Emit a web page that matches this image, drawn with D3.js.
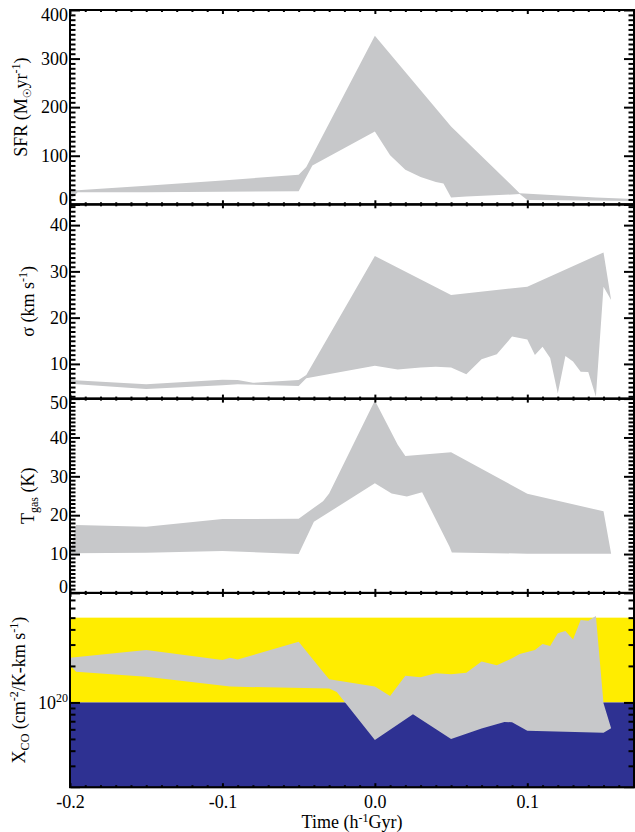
<!DOCTYPE html>
<html>
<head>
<meta charset="utf-8">
<script src="https://cdn.jsdelivr.net/npm/d3@7"></script>
<style>
  body { margin: 0; background: #fff; }
  svg text { font-family: "Liberation Serif", "Times New Roman", serif; fill: #000; }
</style>
</head>
<body>
<svg id="chart" width="635" height="832"></svg>
<script>
// ---- time axis ----
const timeDomain = [-0.2, 0.17];
const timeMajor = [-0.2, -0.1, 0.0, 0.1];
const timeLabels = ["-0.2", "-0.1", "0.0", "0.1"];

// ---- star formation rate envelope [time, M_sun/yr] ----
const sfrUpper = [[-0.2, 33], [-0.195, 29], [-0.15, 38], [-0.1, 49], [-0.05, 61], [-0.045, 77],
  [0.0, 347], [0.05, 160], [0.095, 23], [0.145, 14], [0.17, 11]];
const sfrLower = [[-0.2, 9], [-0.195, 25], [-0.15, 25], [-0.1, 26], [-0.05, 27], [-0.041, 80],
  [0.0, 150], [0.01, 101], [0.02, 71], [0.03, 56], [0.04, 46], [0.045, 43], [0.05, 14],
  [0.06, 16], [0.095, 21], [0.1, 9], [0.17, 7]];

// ---- velocity dispersion envelope [time, km/s] ----
const sigmaUpper = [[-0.2, 6.5], [-0.15, 5.6], [-0.1, 6.6], [-0.09, 6.5], [-0.08, 5.9], [-0.05, 6.5],
  [-0.045, 7.6], [0.0, 33.3], [0.05, 24.9], [0.1, 26.7], [0.15, 34.1], [0.155, 23.8]];
const sigmaLower = [[-0.2, 5.7], [-0.15, 4.6], [-0.1, 5.4], [-0.09, 5.6], [-0.05, 5.2], [-0.045, 6.9],
  [0.0, 9.6], [0.015, 8.8], [0.03, 9.2], [0.04, 9.4], [0.05, 9.2], [0.06, 7.75], [0.07, 11.0],
  [0.08, 12.1], [0.09, 15.9], [0.1, 15.3], [0.105, 11.9], [0.11, 13.7], [0.115, 11.3],
  [0.12, 3.6], [0.125, 11.7], [0.13, 10.5], [0.135, 8.3], [0.14, 8.25], [0.145, 2.9],
  [0.15, 26.7], [0.155, 23.8]];

// ---- gas temperature envelope [time, K] ----
const tgasUpper = [[-0.2, 10.2], [-0.196, 17.5], [-0.15, 17.0], [-0.1, 19.0], [-0.05, 19.1],
  [-0.034, 23.6], [-0.03, 25.6], [0.0, 49.5], [0.015, 38.1], [0.02, 35.2], [0.05, 36.2],
  [0.1, 25.5], [0.15, 21.0], [0.155, 10.1]];
const tgasLower = [[-0.2, 10.2], [-0.15, 10.3], [-0.1, 10.8], [-0.05, 10.0], [-0.04, 18.3],
  [0.0, 28.2], [0.011, 25.6], [0.021, 24.8], [0.031, 25.9], [0.049, 11.9], [0.0505, 10.4],
  [0.1, 10.1], [0.155, 10.1]];

// ---- CO-to-H2 conversion factor envelope [time, cm^-2/(K km/s)] ----
const xcoUpper = [[-0.2, 2.34e20], [-0.15, 2.70e20], [-0.1, 2.24e20], [-0.095, 2.34e20],
  [-0.09, 2.26e20], [-0.05, 3.16e20], [-0.035, 1.85e20], [-0.03, 1.55e20], [0.0, 1.35e20],
  [0.01, 1.13e20], [0.02, 1.66e20], [0.03, 1.61e20], [0.04, 1.74e20], [0.05, 1.71e20],
  [0.06, 1.76e20], [0.07, 2.17e20], [0.08, 2.03e20], [0.09, 2.31e20], [0.095, 2.51e20],
  [0.105, 2.70e20], [0.11, 3.03e20], [0.115, 2.92e20], [0.12, 3.72e20], [0.125, 3.88e20],
  [0.13, 3.31e20], [0.135, 4.78e20], [0.14, 4.72e20], [0.145, 5.15e20], [0.15, 0.985e20],
  [0.155, 0.612e20]];
const xcoLower = [[-0.2, 2.04e20], [-0.196, 1.79e20], [-0.15, 1.63e20], [-0.095, 1.35e20],
  [-0.03, 1.30e20], [-0.025, 1.22e20], [0.0, 0.49e20], [0.025, 0.80e20], [0.05, 0.50e20],
  [0.07, 0.61e20], [0.085, 0.69e20], [0.09, 0.686e20], [0.1, 0.585e20], [0.15, 0.562e20],
  [0.155, 0.612e20]];

// Galactic / ULIRG reference bands for X_CO
const xcoBandHigh = [1e20, 5e20];
const xcoBandLow = [2e19, 1e20];

// ---- tick values ----
const sfrTicks = [0, 100, 200, 300, 400];
const sigmaTicks = [10, 20, 30, 40];
const tgasTicks = [0, 10, 20, 30, 40, 50];
const xcoTicks = [1e20];

// ---- layout ----
const W = 635, H = 832;
const L = 70, R = 634, T = 10, B = 787.2;
const PH = (B - T) / 4;
const FILL = "#c7c8ca";
const YELLOW = "#ffed00";
const BLUE = "#2e3192";

const svg = d3.select("#chart");
const x = d3.scaleLinear().domain(timeDomain).range([L, R]);

const panels = [
  { upper: sfrUpper, lower: sfrLower, y: d3.scaleLinear().domain([0, 400]),
    major: sfrTicks, minor: d3.range(0, 401, 10),
    title: [{ t: "SFR (M" }, { t: "\u2609", sub: true, sym: true }, { t: "yr" }, { t: "-1", sup: true }, { t: ")" }],
    titleX: 27 },
  { upper: sigmaUpper, lower: sigmaLower, y: d3.scaleLinear().domain([2.5, 44.5]),
    major: sigmaTicks, minor: d3.range(3, 45, 1),
    title: [{ t: "\u03c3 (km s" }, { t: "-1", sup: true }, { t: ")" }],
    titleX: 34 },
  { upper: tgasUpper, lower: tgasLower, y: d3.scaleLinear().domain([0, 50]),
    major: tgasTicks, minor: d3.range(0, 51, 1),
    title: [{ t: "T" }, { t: "gas", sub: true }, { t: " (K)" }],
    titleX: 34 },
  { upper: xcoUpper, lower: xcoLower, y: d3.scaleLog().domain([2e19, 8e20]),
    major: xcoTicks, minor: [3e19, 4e19, 5e19, 6e19, 7e19, 8e19, 9e19, 2e20, 3e20, 4e20, 5e20, 6e20, 7e20],
    title: [{ t: "X" }, { t: "CO", sub: true }, { t: " (cm" }, { t: "-2", sup: true }, { t: "/K-km s" }, { t: "-1", sup: true }, { t: ")" }],
    titleX: 25, log: true }
];

const xMinor = d3.range(-20, 18).map(d => d / 100).filter(v => Math.abs(Math.round(v * 10) - v * 10) > 1e-6);

function rich(textSel, parts, supShift) {
  let shift = 0;
  parts.forEach(p => {
    const ts = textSel.append("tspan").text(p.t);
    let target = 0;
    if (p.sup) { target = -(supShift || 7); ts.attr("font-size", 12); }
    if (p.sub) { target = 4; ts.attr("font-size", p.sym ? 11 : 12); }
    if (p.sym) ts.style("font-family", "DejaVu Sans");
    ts.attr("dy", target - shift);
    shift = target;
  });
}

function styleAxis(g, width) {
  g.select(".domain").remove();
  g.selectAll(".tick line").attr("stroke", "#000").attr("stroke-width", width);
  g.selectAll(".tick text").attr("font-size", 18).attr("font-family", "Liberation Serif");
}

panels.forEach((p, i) => {
  const top = T + i * PH, bottom = top + PH;
  p.y.range([bottom, top]);
  const y = p.y;
  const clipId = "clip" + i;
  svg.append("clipPath").attr("id", clipId)
    .append("rect").attr("x", L).attr("y", top).attr("width", R - L).attr("height", PH);

  const g = svg.append("g").attr("clip-path", `url(#${clipId})`);

  if (p.log) {
    g.append("rect").attr("x", L).attr("width", R - L)
      .attr("y", y(xcoBandHigh[1])).attr("height", y(xcoBandHigh[0]) - y(xcoBandHigh[1]))
      .attr("fill", YELLOW);
    g.append("rect").attr("x", L).attr("width", R - L)
      .attr("y", y(xcoBandLow[1])).attr("height", y(xcoBandLow[0]) - y(xcoBandLow[1]))
      .attr("fill", BLUE);
  }

  // envelope polygon: upper edge forward, lower edge back
  const ring = p.upper.concat(p.lower.slice().reverse());
  const line = d3.line().x(d => x(d[0])).y(d => y(d[1]));
  g.append("path").attr("d", line(ring) + "Z").attr("fill", FILL).attr("stroke", "none");

  // x ticks on bottom and top of the panel
  const axB = svg.append("g").attr("transform", `translate(0,${bottom})`);
  axB.append("g").call(d3.axisBottom(x).tickValues(xMinor).tickSize(-2).tickFormat(""));
  const lastPanel = i === panels.length - 1;
  axB.append("g").call(d3.axisBottom(x).tickValues(timeMajor).tickSize(-4).tickPadding(8)
    .tickFormat((d, k) => lastPanel ? timeLabels[k] : ""));
  styleAxis(axB, 2);

  const axT = svg.append("g").attr("transform", `translate(0,${top})`);
  axT.append("g").call(d3.axisTop(x).tickValues(xMinor).tickSize(-2).tickFormat(""));
  axT.append("g").call(d3.axisTop(x).tickValues(timeMajor).tickSize(-4).tickFormat(""));
  styleAxis(axT, 2);

  // y ticks left (labelled) and right
  const minorOnly = p.minor.filter(v => !p.major.includes(v) && y(v) > top + 1 && y(v) < bottom - 1);
  const axL = svg.append("g").attr("transform", `translate(${L},0)`);
  axL.append("g").call(d3.axisLeft(y).tickValues(minorOnly).tickSize(-5.5).tickFormat(""));
  const majorAx = axL.append("g").call(d3.axisLeft(y).tickValues(p.major).tickSize(-10).tickPadding(2)
    .tickFormat(d => p.log ? "" : String(d)));
  styleAxis(axL, 2);
  majorAx.selectAll(".tick text").each(function (d) {
    const t = d3.select(this);
    const py = y(d);
    if (Math.abs(py - top) < 2) t.attr("dy", "0.56em");
    else if (Math.abs(py - bottom) < 2) t.attr("dy", "0em");
    if (p.log) {
      const e = Math.round(Math.log10(d));
      t.append("tspan").text("10");
      t.append("tspan").text(String(e)).attr("font-size", 12).attr("dy", -7);
    }
  });

  const axR = svg.append("g").attr("transform", `translate(${R},0)`);
  axR.append("g").call(d3.axisRight(y).tickValues(minorOnly).tickSize(-5.5).tickFormat(""));
  axR.append("g").call(d3.axisRight(y).tickValues(p.major).tickSize(-10).tickFormat(""));
  styleAxis(axR, 2);

  // frame
  svg.append("rect").attr("x", L).attr("y", top).attr("width", R - L).attr("height", PH)
    .attr("fill", "none").attr("stroke", "#000").attr("stroke-width", 2);

  // y title
  const tt = svg.append("text")
    .attr("transform", `translate(${p.titleX},${(top + bottom) / 2}) rotate(-90)`)
    .attr("text-anchor", "middle").attr("font-size", 18);
  rich(tt, p.title);
});

// x title
const xt = svg.append("text").attr("x", (L + R) / 2).attr("y", 827.5)
  .attr("text-anchor", "middle").attr("font-size", 18);
rich(xt, [{ t: "Time (h" }, { t: "-1", sup: true }, { t: "Gyr)" }], 5.5);
</script>
</body>
</html>
